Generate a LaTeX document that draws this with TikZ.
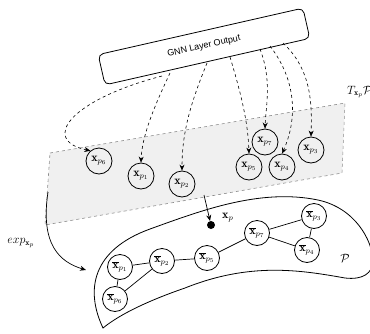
\documentclass[tikz,border=0pt]{standalone}
\usepackage{fontspec}
\newfontfamily\guifont{Liberation Sans}
\usetikzlibrary{arrows.meta}
\begin{document}
\begin{tikzpicture}[x=1pt,y=-1pt,
  pnode/.style={circle,draw,line width=0.8pt,minimum size=26pt,inner sep=0pt,font=\fontsize{12}{14}\selectfont},
  mnode/.style={circle,draw,line width=0.8pt,minimum size=25pt,inner sep=0pt,font=\fontsize{12}{14}\selectfont},
  darr/.style={dashed,line width=0.6pt,-{Stealth[length=6pt,width=5pt]}},
  sarr/.style={line width=0.7pt,-{Stealth[length=6pt,width=5pt]}},
  medge/.style={line width=0.7pt},
  lbl/.style={font=\fontsize{12}{14}\selectfont,inner sep=0pt}]
\useasboundingbox (0,0) rectangle (370,333);
% tangent plane
\draw[dashed,draw=black!45,fill=black!6,line width=0.6pt] (50,153) -- (345,103) -- (342,173) -- (45,225) -- cycle;
% manifold
\draw[line width=0.8pt,fill=white] (103,328) .. controls (85,290) and (92,250) .. (150,229)
  .. controls (200,211) and (260,188) .. (318,200)
  .. controls (355,208) and (372,240) .. (373,260)
  .. controls (373,274) and (362,280) .. (345,278)
  .. controls (300,270) and (250,262) .. (185,288)
  .. controls (150,300) and (120,314) .. (103,328) -- cycle;
% box
\node[draw,rounded corners=5pt,line width=0.8pt,minimum width=210pt,minimum height=31pt,rotate=12.8,font=\guifont\fontsize{9}{11}\selectfont] (gnn) at (204,46.5) {GNN Layer Output};
% tangent nodes
\node[pnode] (xp6) at (99,161) {$\mathbf{x}_{p_6}$};
\node[pnode] (xp1) at (141,176) {$\mathbf{x}_{p_1}$};
\node[pnode] (xp2) at (182,184) {$\mathbf{x}_{p_2}$};
\node[pnode] (xp5) at (249,167) {$\mathbf{x}_{p_5}$};
\node[pnode] (xp7) at (265,142) {$\mathbf{x}_{p_7}$};
\node[pnode] (xp4) at (282,167) {$\mathbf{x}_{p_4}$};
\node[pnode] (xp3) at (311,150) {$\mathbf{x}_{p_3}$};
% start points on box
\coordinate (s6) at (162,76);
\coordinate (s1) at (170,73);
\coordinate (s2) at (207,63);
\coordinate (s5) at (230,57);
\coordinate (s7) at (260,49);
\coordinate (s4) at (270,46);
\coordinate (s3) at (283,43);
\draw[darr] (s6) .. controls (70,100) and (40,140) .. (xp6.130);
\draw[darr] (s1) .. controls (155,105) and (142,135) .. (xp1.north);
\draw[darr] (s2) .. controls (192,100) and (182,130) .. (xp2.north);
\draw[darr] (s5) .. controls (243,100) and (248,125) .. (xp5.north);
\draw[darr] (s7) .. controls (272,80) and (266,105) .. (xp7.north);
\draw[darr] (s4) .. controls (300,85) and (295,125) .. (xp4.north);
\draw[darr] (s3) .. controls (312,70) and (312,105) .. (xp3.north);
% manifold nodes
\node[mnode] (bp1) at (120,267) {$\overline{\mathbf{x}}_{p_1}$};
\node[mnode] (bp2) at (162,261) {$\overline{\mathbf{x}}_{p_2}$};
\node[mnode] (bp6) at (115,299) {$\overline{\mathbf{x}}_{p_6}$};
\node[mnode] (bp5) at (207,258) {$\overline{\mathbf{x}}_{p_5}$};
\node[mnode] (bp7) at (257,233) {$\overline{\mathbf{x}}_{p_7}$};
\node[mnode] (bp4) at (307,250) {$\overline{\mathbf{x}}_{p_4}$};
\node[mnode] (bp3) at (314,216) {$\overline{\mathbf{x}}_{p_3}$};
\draw[medge] (bp1) -- (bp2);
\draw[medge] (bp1) -- (bp6);
\draw[medge] (bp2) -- (bp6);
\draw[medge] (bp2) -- (bp5);
\draw[medge] (bp5) -- (bp7);
\draw[medge] (bp7) -- (bp3);
\draw[medge] (bp7) -- (bp4);
\draw[medge] (bp4) -- (bp3);
% point x_p
\node[circle,fill=black,minimum size=8pt,inner sep=0pt] (xp) at (211,225) {};
\coordinate (xps) at (204,195);
\draw[sarr] (xps) -- (xp);
\node[lbl,anchor=west] (xpl) at (222,218) {$\mathbf{x}_p$};
% exp arrow
\coordinate (es) at (48,192);
\coordinate (ee) at (86,270);
\draw[sarr] (es) .. controls (40,245) and (60,262) .. (ee);
\node[lbl] (expl) at (21,243) {$exp_{\mathbf{x}_p}$};
% labels
\node[lbl,anchor=west] (tl) at (347,92) {$T_{\mathbf{x}_p}\mathcal{P}$};
\node[lbl] (pl) at (345,258) {$\mathcal{P}$};
\end{tikzpicture}
\end{document}
